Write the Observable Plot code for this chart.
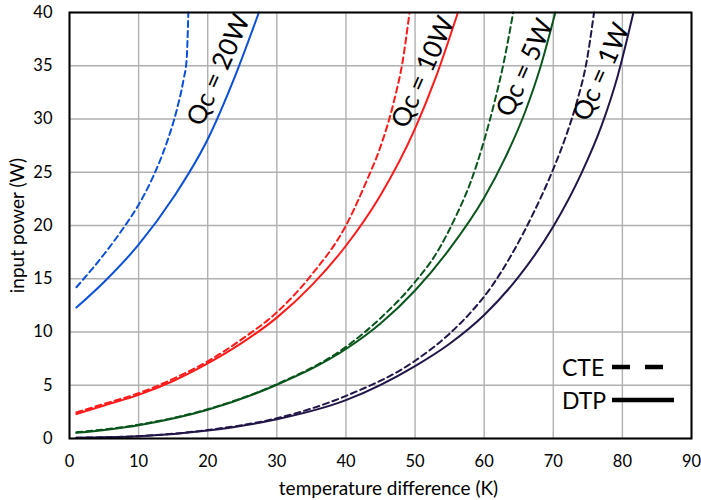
<!DOCTYPE html>
<html>
<head>
<meta charset="utf-8">
<script src="https://cdn.jsdelivr.net/npm/d3@7"></script>
<script src="https://cdn.jsdelivr.net/npm/@observablehq/plot@0.6"></script>
<style>
  html, body { margin: 0; padding: 0; background: #fff; }
  #wrap { position: relative; width: 701px; height: 500px; font-family: Lato, "Open Sans", sans-serif; }
  #legend { position: absolute; left: 0; top: 0; width: 701px; height: 500px; pointer-events: none; }
</style>
</head>
<body>
<div id="wrap"></div>
<script>
// ---- data (temperature difference K, input power W) ----
const qc20_DTP = [[1,12.3],[5,14.7],[10,18.2],[15,22.6],[20,28.1],[24,34.1],[27.4,40]];
const qc20_CTE = [[1,14.2],[5,17.3],[8,19.95],[10,21.95],[12,24.45],[14,27.65],[15.5,30.8],[16.5,33.7],[16.95,35.6],[17.2,40]];
const qc10_DTP = [[1,2.3],[5,3.1],[10,4.1],[15,5.4],[20,7.05],[25,9.0],[30,11.35],[35,14.35],[40,18.1],[45,22.85],[50,29.1],[53,33.9],[56.2,40]];
const qc10_CTE = [[1,2.45],[5,3.25],[10,4.25],[15,5.6],[20,7.25],[25,9.35],[30,11.85],[35,15.35],[40,20.0],[43,24.2],[45,27.4],[47,31.8],[48.2,35.4],[49.2,40]];
const qc5_DTP  = [[1,0.53],[10,1.25],[20,2.7],[30,5.05],[40,8.4],[45,10.8],[50,13.9],[55,17.8],[60,22.6],[63,26.3],[66,30.8],[68.2,35],[70.3,40]];
const qc5_CTE  = [[1,0.58],[10,1.3],[20,2.75],[30,5.1],[40,8.6],[45,11.3],[50,14.7],[53,17.3],[56,21.0],[58,24.0],[60,28.0],[61.5,31.6],[62.8,35.2],[64.2,40]];
const qc1_DTP  = [[1,0.06],[10,0.2],[20,0.75],[30,1.8],[40,3.6],[50,6.8],[55,8.9],[60,11.6],[65,15.2],[70,19.9],[74,24.8],[77,29.4],[79.3,34.0],[81.6,40]];
const qc1_CTE  = [[1,0.07],[10,0.22],[20,0.8],[30,1.9],[40,4.0],[50,7.3],[55,9.85],[58,11.8],[61,14.2],[64,17.3],[67,21.0],[70,25.3],[72,28.7],[73.5,31.8],[74.8,35.3],[75.9,40]];

const seriesNames  = ["Qc = 20W", "Qc = 10W", "Qc = 5W", "Qc = 1W"];
const seriesColors = ["#0a4fd8", "#ff1a1a", "#0a551c", "#221548"];
const labelX = [21.6, 51.2, 65.9, 77.0];
const labelY = [34.6, 34.4, 34.8, 34.4];

const xTicks = [0,10,20,30,40,50,60,70,80,90];
const yTicks = [0,5,10,15,20,25,30,35,40];
const xTitle = "temperature difference (K)";
const yTitle = "input power (W)";

const dtpSets = [qc20_DTP, qc10_DTP, qc5_DTP, qc1_DTP];
const cteSets = [qc20_CTE, qc10_CTE, qc5_CTE, qc1_CTE];

const toRows = (pts) => pts.map(([x, y]) => ({x, y}));
const labels = seriesNames.map((name, i) => ({name, x: labelX[i], y: labelY[i]}));

const marks = [
  Plot.gridX(xTicks, {stroke: "#b0b0b0", strokeOpacity: 1, strokeWidth: 1.4}),
  Plot.gridY(yTicks, {stroke: "#b0b0b0", strokeOpacity: 1, strokeWidth: 1.4}),
  Plot.axisX(xTicks, {tickSize: 0, tickPadding: 17, fontSize: 16.5, label: null}),
  Plot.axisY(yTicks, {tickSize: 0, tickPadding: 17, fontSize: 16.5, label: null}),
  Plot.text([xTitle], {frameAnchor: "bottom", dx: 8, dy: 50, fontSize: 19, fill: "black", textAnchor: "middle", lineAnchor: "middle"}),
  Plot.text([yTitle], {frameAnchor: "left", dx: -52, rotate: -90, fontSize: 19, fill: "black", textAnchor: "middle", lineAnchor: "middle"})
];
cteSets.forEach((s, i) => marks.push(Plot.line(toRows(s), {x: "x", y: "y", stroke: seriesColors[i], strokeWidth: 2, strokeDasharray: "6,4", curve: "monotone-x"})));
dtpSets.forEach((s, i) => marks.push(Plot.line(toRows(s), {x: "x", y: "y", stroke: seriesColors[i], strokeWidth: 2, curve: "monotone-x"})));
marks.push(Plot.frame({stroke: "black", strokeWidth: 2}));
marks.push(Plot.text(labels, {x: "x", y: "y", text: "name", rotate: -66, fontSize: 26, fill: "black", textAnchor: "middle"}));

const chart = Plot.plot({
  width: 701,
  height: 500,
  marginLeft: 69,
  marginRight: 10,
  marginTop: 12,
  marginBottom: 62,
  style: {fontFamily: "Lato, 'Open Sans', sans-serif", fontSize: "16px", color: "black", background: "white"},
  x: {domain: [0, 90]},
  y: {domain: [0, 40]},
  marks
});
const wrap = document.getElementById("wrap");
wrap.appendChild(chart);

// legend overlay (CTE dashed / DTP solid)
const legendItems = ["CTE", "DTP"];
const legendDash = ["18,15", null];
const ns = "http://www.w3.org/2000/svg";
const lg = document.createElementNS(ns, "svg");
lg.setAttribute("id", "legend");
lg.setAttribute("width", 701);
lg.setAttribute("height", 500);
legendItems.forEach((t, i) => {
  const cy = 368 + i * 33;
  const tx = document.createElementNS(ns, "text");
  tx.setAttribute("x", 562);
  tx.setAttribute("y", cy);
  tx.setAttribute("dy", "0.36em");
  tx.setAttribute("font-size", 23);
  tx.setAttribute("font-family", "Lato, 'Open Sans', sans-serif");
  tx.textContent = t;
  lg.appendChild(tx);
  const ln = document.createElementNS(ns, "line");
  ln.setAttribute("x1", 612);
  ln.setAttribute("x2", i === 0 ? 663 : 674);
  ln.setAttribute("y1", cy - 1);
  ln.setAttribute("y2", cy - 1);
  ln.setAttribute("stroke", "black");
  ln.setAttribute("stroke-width", 4.5);
  if (legendDash[i]) ln.setAttribute("stroke-dasharray", legendDash[i]);
  lg.appendChild(ln);
});
wrap.appendChild(lg);
</script>
</body>
</html>
